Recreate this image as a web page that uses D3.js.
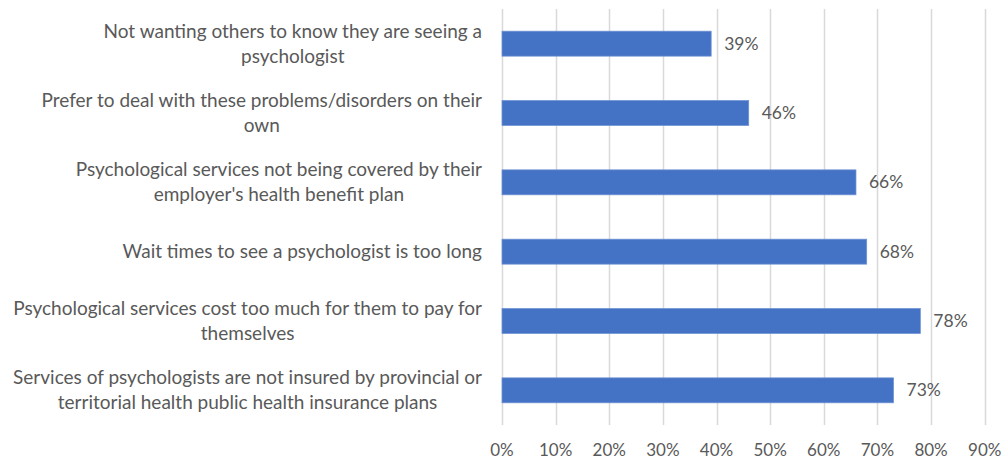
<!DOCTYPE html>
<html>
<head>
<meta charset="utf-8" />
<title>Barriers</title>
<style>
  body { margin: 0; background: #fff; }
  text { font-family: Lato, "Open Sans", sans-serif; fill: #595959; }
</style>
</head>
<body>
<svg width="1006" height="461"></svg>
<script src="https://cdn.jsdelivr.net/npm/d3@7"></script>
<script>
// categories, one array of wrapped lines per bar (top to bottom)
var categories = [
    ["Not wanting others to know they are seeing a", "psychologist"],
    ["Prefer to deal with these problems/disorders on their", "own"],
    ["Psychological services not being covered by their", "employer's health benefit plan"],
    ["Wait times to see a psychologist is too long"],
    ["Psychological services cost too much for them to pay for", "themselves"],
    ["Services of psychologists are not insured by provincial or", "territorial health public health insurance plans"]
];
var values = [39, 46, 66, 68, 78, 73];
var ticks = [0, 10, 20, 30, 40, 50, 60, 70, 80, 90];

var data = categories.map(function (c, i) {
    return { lines: c, key: i, value: values[i] };
});

var svg = d3.select('svg');
var plotLeft = 502, plotRight = 984.7, plotTop = 9, plotBottom = 425;

var x = d3.scaleLinear().domain([0, 90]).range([plotLeft, plotRight]);
var y = d3.scaleBand()
    .domain(data.map(function (d) { return d.key; }))
    .range([plotTop, plotBottom])
    .paddingInner(0.64)
    .paddingOuter(0.32);

// gridlines
svg.append('g')
    .selectAll('line')
    .data(ticks)
    .enter()
    .append('line')
    .attr('x1', function (d) { return Math.round(x(d)) + 0.5; })
    .attr('x2', function (d) { return Math.round(x(d)) + 0.5; })
    .attr('y1', plotTop)
    .attr('y2', plotBottom)
    .attr('stroke', '#d9d9d9')
    .attr('stroke-width', 1.5);

// x axis labels
svg.append('g')
    .selectAll('text')
    .data(ticks)
    .enter()
    .append('text')
    .attr('x', function (d) { return x(d); })
    .attr('y', 450)
    .attr('dy', '0.35em')
    .attr('text-anchor', 'middle')
    .style('font-size', '17px')
    .text(function (d) { return d + '%'; });

// bars
svg.append('g')
    .selectAll('rect')
    .data(data)
    .enter()
    .append('rect')
    .attr('x', x(0))
    .attr('y', function (d) { return y(d.key); })
    .attr('width', function (d) { return x(d.value) - x(0); })
    .attr('height', y.bandwidth())
    .attr('fill', '#4472c4')
    .attr('stroke', '#6f93d3')
    .attr('stroke-width', 0.75);

// value labels
svg.append('g')
    .selectAll('text')
    .data(data)
    .enter()
    .append('text')
    .attr('x', function (d) { return x(d.value) + 13; })
    .attr('y', function (d) { return y(d.key) + y.bandwidth() / 2; })
    .attr('dy', '0.35em')
    .style('font-size', '17.5px')
    .text(function (d) { return d.value + '%'; });

// category labels: block right-aligned, lines centred inside the block
var lineH = 25;
var labelRight = 482;
data.forEach(function (d) {
    var cy = y(d.key) + y.bandwidth() / 2;
    var g = svg.append('g');
    var n = d.lines.length;
    var texts = d.lines.map(function (ln, i) {
        return g.append('text')
            .attr('y', cy + (i - (n - 1) / 2) * lineH)
            .attr('dy', '0.35em')
            .attr('text-anchor', 'middle')
            .style('font-size', '19px')
            .text(ln);
    });
    var w = d3.max(texts, function (t) { return t.node().getComputedTextLength(); });
    texts.forEach(function (t) { t.attr('x', labelRight - w / 2); });
});
</script>
</body>
</html>
